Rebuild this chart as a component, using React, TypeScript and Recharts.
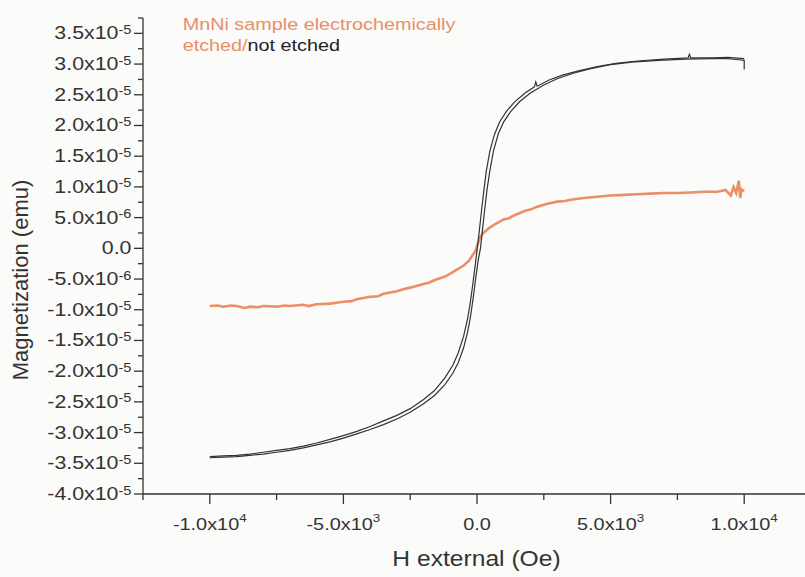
import React from "react"
import { LineChart, Line, XAxis, YAxis, Label } from "recharts"

// H in Oe, M in 1e-6 emu
const notEtchedLeft: [number, number][] = [
  [-10000, -33.9], [-9500, -33.8], [-9000, -33.7], [-8500, -33.5], [-8000, -33.2],
  [-7500, -32.9], [-7000, -32.6], [-6500, -32.2], [-6000, -31.7],
  [-5500, -31.1], [-5000, -30.5], [-4500, -29.8], [-4000, -29.0], [-3500, -28.1],
  [-3000, -27.2], [-2500, -26.1], [-2000, -24.6], [-1600, -23.2], [-1200, -21.1],
  [-900, -19.0], [-700, -17.0], [-500, -14.3], [-350, -11.4], [-250, -8.8],
  [-150, -5.6], [-60, -2.5], [10, 0], [80, 2.6], [160, 5.8], [250, 9.2],
  [350, 12.6], [480, 15.8], [650, 18.5], [850, 20.6], [1100, 22.3], [1400, 23.8],
  [1800, 25.3], [2150, 26.3], [2200, 27.1], [2250, 26.4], [2700, 27.4], [3200, 28.2],
  [3800, 28.9], [4500, 29.6], [5200, 30.1], [6000, 30.5], [7000, 30.8], [7900, 31.0],
  [7950, 31.6], [8000, 31.0], [8800, 31.0], [9400, 31.1], [10000, 30.9],
]

const notEtchedRight: [number, number][] = [
  [-10000, -34.1], [-9500, -34.0], [-9000, -33.9], [-8500, -33.7], [-8000, -33.5],
  [-7500, -33.2], [-7000, -32.9], [-6500, -32.5], [-6000, -32.0], [-5500, -31.5],
  [-5000, -30.9], [-4500, -30.2], [-4000, -29.5], [-3500, -28.7], [-3000, -27.8],
  [-2500, -26.7], [-2000, -25.3], [-1600, -24.0], [-1200, -22.2], [-900, -20.3],
  [-700, -18.6], [-500, -16.2], [-350, -13.6], [-250, -11.3], [-150, -8.3],
  [-50, -4.9], [50, -1.8], [130, 0], [200, 2.8], [280, 6.0], [370, 9.4],
  [480, 12.6], [620, 15.9], [800, 18.7], [1000, 20.6], [1250, 22.2], [1600, 23.9],
  [2000, 25.3], [2500, 26.6], [3000, 27.6], [3600, 28.5], [4300, 29.3], [5000, 29.9],
  [5800, 30.3], [6800, 30.6], [7800, 30.8], [8800, 30.9], [9400, 30.9], [9800, 30.7],
  [10000, 30.6], [10000, 29.1],
]

const etched: [number, number][] = [
  [-10000, -9.4], [-9700, -9.3], [-9500, -9.5], [-9200, -9.3], [-9000, -9.4],
  [-8700, -9.7], [-8500, -9.5], [-8200, -9.6], [-8000, -9.4], [-7500, -9.5],
  [-7200, -9.3], [-7000, -9.4], [-6500, -9.2], [-6300, -9.4], [-6000, -9.1],
  [-5500, -9.0], [-5000, -8.7], [-4700, -8.6], [-4500, -8.3], [-4000, -7.9],
  [-3700, -7.8], [-3500, -7.4], [-3000, -7.0], [-2700, -6.6], [-2500, -6.4],
  [-2000, -5.8], [-1800, -5.6], [-1600, -5.2], [-1200, -4.6], [-1000, -4.1],
  [-800, -3.6], [-500, -2.8], [-300, -2.0], [-150, -1.0], [-60, -0.5], [20, 0.6],
  [110, 1.8], [240, 2.5], [450, 3.3], [700, 4.0], [1000, 4.7], [1200, 4.9],
  [1360, 5.3], [1800, 6.1], [2000, 6.3], [2200, 6.7], [2600, 7.2], [3000, 7.6],
  [3300, 7.7], [3500, 7.9], [4000, 8.2], [4500, 8.4], [5000, 8.6], [5500, 8.7],
  [6000, 8.8], [6500, 8.9], [7000, 9.0], [7500, 9.0], [8000, 9.1], [8500, 9.2],
  [9000, 9.2], [9300, 9.5], [9500, 8.6], [9600, 10.0], [9700, 9.0], [9800, 11.0],
  [9850, 8.2], [9900, 9.6], [10000, 9.3],
]

const xMajorTicks = [-10000, -5000, 0, 5000, 10000]
const xTickLabels = [["-1.0x10", "4"], ["-5.0x10", "3"], ["0.0", ""], ["5.0x10", "3"], ["1.0x10", "4"]]
const xMinorTicks = [-12500, -7500, -2500, 2500, 7500, 12500]

const yMajorTicks = [-40, -35, -30, -25, -20, -15, -10, -5, 0, 5, 10, 15, 20, 25, 30, 35]
const yTickLabels = [
  ["-4.0x10", "-5"], ["-3.5x10", "-5"], ["-3.0x10", "-5"], ["-2.5x10", "-5"],
  ["-2.0x10", "-5"], ["-1.5x10", "-5"], ["-1.0x10", "-5"], ["-5.0x10", "-6"],
  ["0.0", ""], ["5.0x10", "-6"], ["1.0x10", "-5"], ["1.5x10", "-5"],
  ["2.0x10", "-5"], ["2.5x10", "-5"], ["3.0x10", "-5"], ["3.5x10", "-5"],
]
const yMinorTicks = [
  -37.5, -32.5, -27.5, -22.5, -17.5, -12.5, -7.5, -2.5,
  2.5, 7.5, 12.5, 17.5, 22.5, 27.5, 32.5, 37.5,
]

const ink = "#333333"
const orange = "#EA8F67"
const font = "'Liberation Sans', Arial, sans-serif"

const toRows = (pts: [number, number][]) => pts.map(([h, m]) => ({ h, m }))

const findIdx = (list: number[], v: number) => list.findIndex((t) => Math.abs(t - v) < 1e-6)

function XTick({ x, y, payload }: any) {
  const i = findIdx(xMajorTicks, payload.value)
  const major = i >= 0
  return (
    <g>
      <line x1={x} x2={x} y1={y} y2={y + (major ? 10 : 6)} stroke={ink} strokeWidth={1.3} />
      {major && (
        <text
          transform={`translate(${x},${y + 35.5}) scale(1.17,1)`}
          textAnchor="middle"
          fontFamily={font}
          fontSize={17}
          fill={ink}
        >
          {xTickLabels[i][0]}
          {xTickLabels[i][1] && (
            <tspan dy={-8} fontSize={11.5}>{xTickLabels[i][1]}</tspan>
          )}
        </text>
      )}
    </g>
  )
}

function YTick({ x, y, payload }: any) {
  const i = findIdx(yMajorTicks, payload.value)
  const major = i >= 0
  return (
    <g>
      <line x1={x - (major ? 9 : 5)} x2={x} y1={y} y2={y} stroke={ink} strokeWidth={1.3} />
      {major && (
        <text
          transform={`translate(${x - 11.5},${y + 6}) scale(1.22,1)`}
          textAnchor="end"
          fontFamily={font}
          fontSize={17.5}
          fill={ink}
        >
          {yTickLabels[i][0]}
          {yTickLabels[i][1] && (
            <tspan dy={-5.5} fontSize={12}>{yTickLabels[i][1]}</tspan>
          )}
        </text>
      )}
    </g>
  )
}

const xTicks = [...xMinorTicks, ...xMajorTicks].sort((a, b) => a - b)
const yTicks = [...yMinorTicks, ...yMajorTicks].sort((a, b) => a - b)

export default function App() {
  return (
    <div
      style={{
        position: "absolute",
        left: 0,
        top: 0,
        width: 805,
        height: 577,
        overflow: "hidden",
        background: "#fbfbfa",
      }}
    >
      <div style={{ position: "absolute", left: 8, top: 8 }}>
        <LineChart width={803} height={569} margin={{ top: 10, right: 0, bottom: 0, left: 0 }}>
          <XAxis
            type="number"
            dataKey="h"
            domain={[-12500, 12500]}
            ticks={xTicks}
            interval={0}
            height={83}
            tickSize={0}
            tickMargin={0}
            tickLine={false}
            tick={<XTick />}
            axisLine={{ stroke: ink, strokeWidth: 1.3 }}
          >
            <Label
              content={() => (
                <text
                  transform="translate(468.5,557.7) scale(1.12,1)"
                  textAnchor="middle"
                  fontFamily={font}
                  fontSize={22}
                  fill={ink}
                >
                  H external (Oe)
                </text>
              )}
            />
          </XAxis>
          <YAxis
            type="number"
            dataKey="m"
            domain={[-40, 37.5]}
            ticks={yTicks}
            interval={0}
            width={135}
            tickSize={0}
            tickMargin={0}
            tickLine={false}
            tick={<YTick />}
            axisLine={{ stroke: ink, strokeWidth: 1.3 }}
          >
            <Label
              content={() => (
                <text
                  transform="translate(20,272) rotate(-90)"
                  textAnchor="middle"
                  fontFamily={font}
                  fontSize={22}
                  fill={ink}
                >
                  Magnetization (emu)
                </text>
              )}
            />
            <Label
              content={() => (
                <g fontFamily={font} fontSize={17}>
                  <text transform="translate(174.7,21.7) scale(1.165,1)" fill={orange}>
                    MnNi sample electrochemically
                  </text>
                  <text transform="translate(174.7,43) scale(1.165,1)" fill={orange}>
                    etched/<tspan fill="#222222">not etched</tspan>
                  </text>
                </g>
              )}
            />
          </YAxis>
          <Line
            data={toRows(etched)}
            dataKey="m"
            type="linear"
            stroke={orange}
            strokeWidth={2.6}
            dot={false}
            activeDot={false}
            isAnimationActive={false}
          />
          <Line
            data={toRows(notEtchedLeft)}
            dataKey="m"
            type="linear"
            stroke={ink}
            strokeWidth={1.2}
            dot={false}
            activeDot={false}
            isAnimationActive={false}
          />
          <Line
            data={toRows(notEtchedRight)}
            dataKey="m"
            type="linear"
            stroke={ink}
            strokeWidth={1.2}
            dot={false}
            activeDot={false}
            isAnimationActive={false}
          />
        </LineChart>
      </div>
    </div>
  )
}
